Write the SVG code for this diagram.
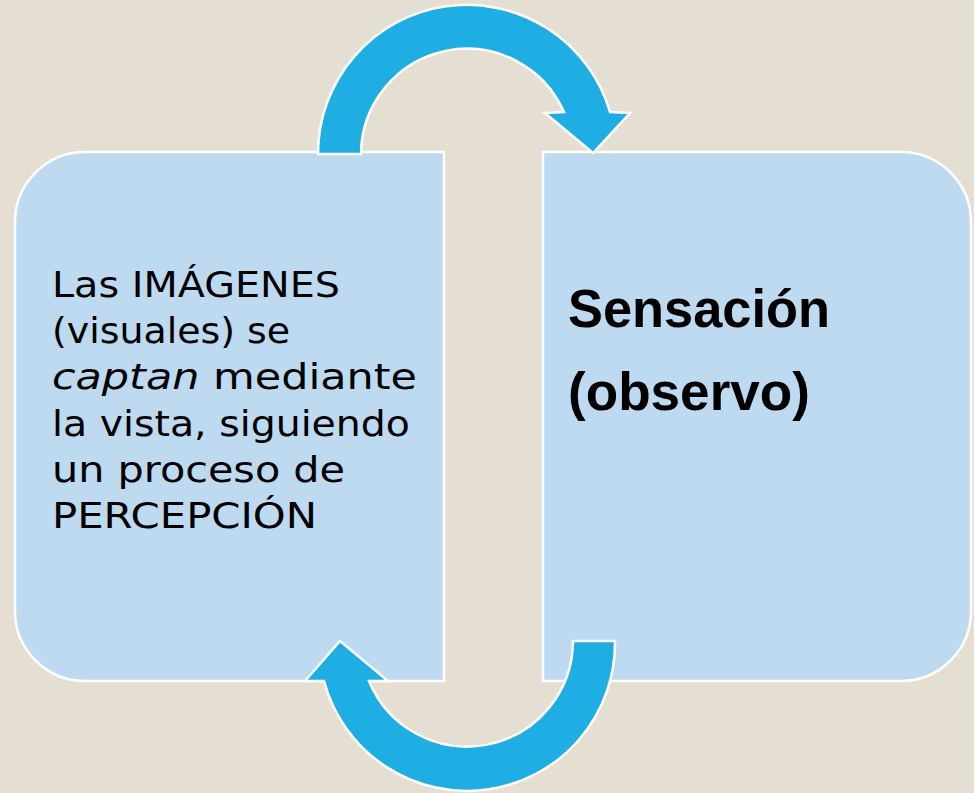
<svg xmlns="http://www.w3.org/2000/svg" width="974" height="793" viewBox="0 0 974 793">
<style>
.box{fill:#BDDAF1;stroke:#FFFFFF;stroke-width:2.5}
.arrow{fill:#1FAEE3;stroke:#FFFFFF;stroke-width:2.5;stroke-linejoin:miter}
.t1{font-family:"DejaVu Sans",sans-serif;font-size:35px;fill:#000}
.t2{font-family:"Liberation Sans",Arial,sans-serif;font-weight:bold;font-size:53px;fill:#000}
</style>
<rect x="0" y="0" width="974" height="793" fill="#E4DED3"/>
<g id="box-left">
<path class="box" d="M85,152 H444 V681 H85 A70,70 0 0 1 15,611 V222 A70,70 0 0 1 85,152 Z"/>
<text class="t1" lengthAdjust="spacingAndGlyphs"><tspan x="52" y="297" textLength="288" lengthAdjust="spacingAndGlyphs">Las IMÁGENES</tspan></text>
<text class="t1" x="52" y="343" textLength="238" lengthAdjust="spacingAndGlyphs">(visuales) se</text>
<text class="t1" x="52" y="389" textLength="365" lengthAdjust="spacingAndGlyphs"><tspan font-style="italic">captan</tspan> mediante</text>
<text class="t1" x="52" y="436" textLength="358" lengthAdjust="spacingAndGlyphs">la vista, siguiendo</text>
<text class="t1" x="52" y="482" textLength="293" lengthAdjust="spacingAndGlyphs">un proceso de</text>
<text class="t1" x="52" y="528" textLength="265" lengthAdjust="spacingAndGlyphs">PERCEPCIÓN</text>
</g>
<g id="box-right">
<path class="box" d="M543,152 H901 A70,70 0 0 1 971,222 V611 A70,70 0 0 1 901,681 H543 Z"/>
<text class="t2" x="568" y="327" textLength="262" lengthAdjust="spacingAndGlyphs">Sensación</text>
<text class="t2" x="568" y="410" textLength="242" lengthAdjust="spacingAndGlyphs">(observo)</text>
</g>
<g id="connectors">
<path class="arrow" d="M318,154 A149,149 0 0 1 610,112 L630,113 L593,153 L545,113 L564,112 A106,106 0 0 0 361,154 Z"/>
<path class="arrow" d="M615,641 A148,148 0 0 1 324,681 L305,681 L340,641 L388,681 L369,681 A106,106 0 0 0 573,641 Z"/>
</g>
</svg>
